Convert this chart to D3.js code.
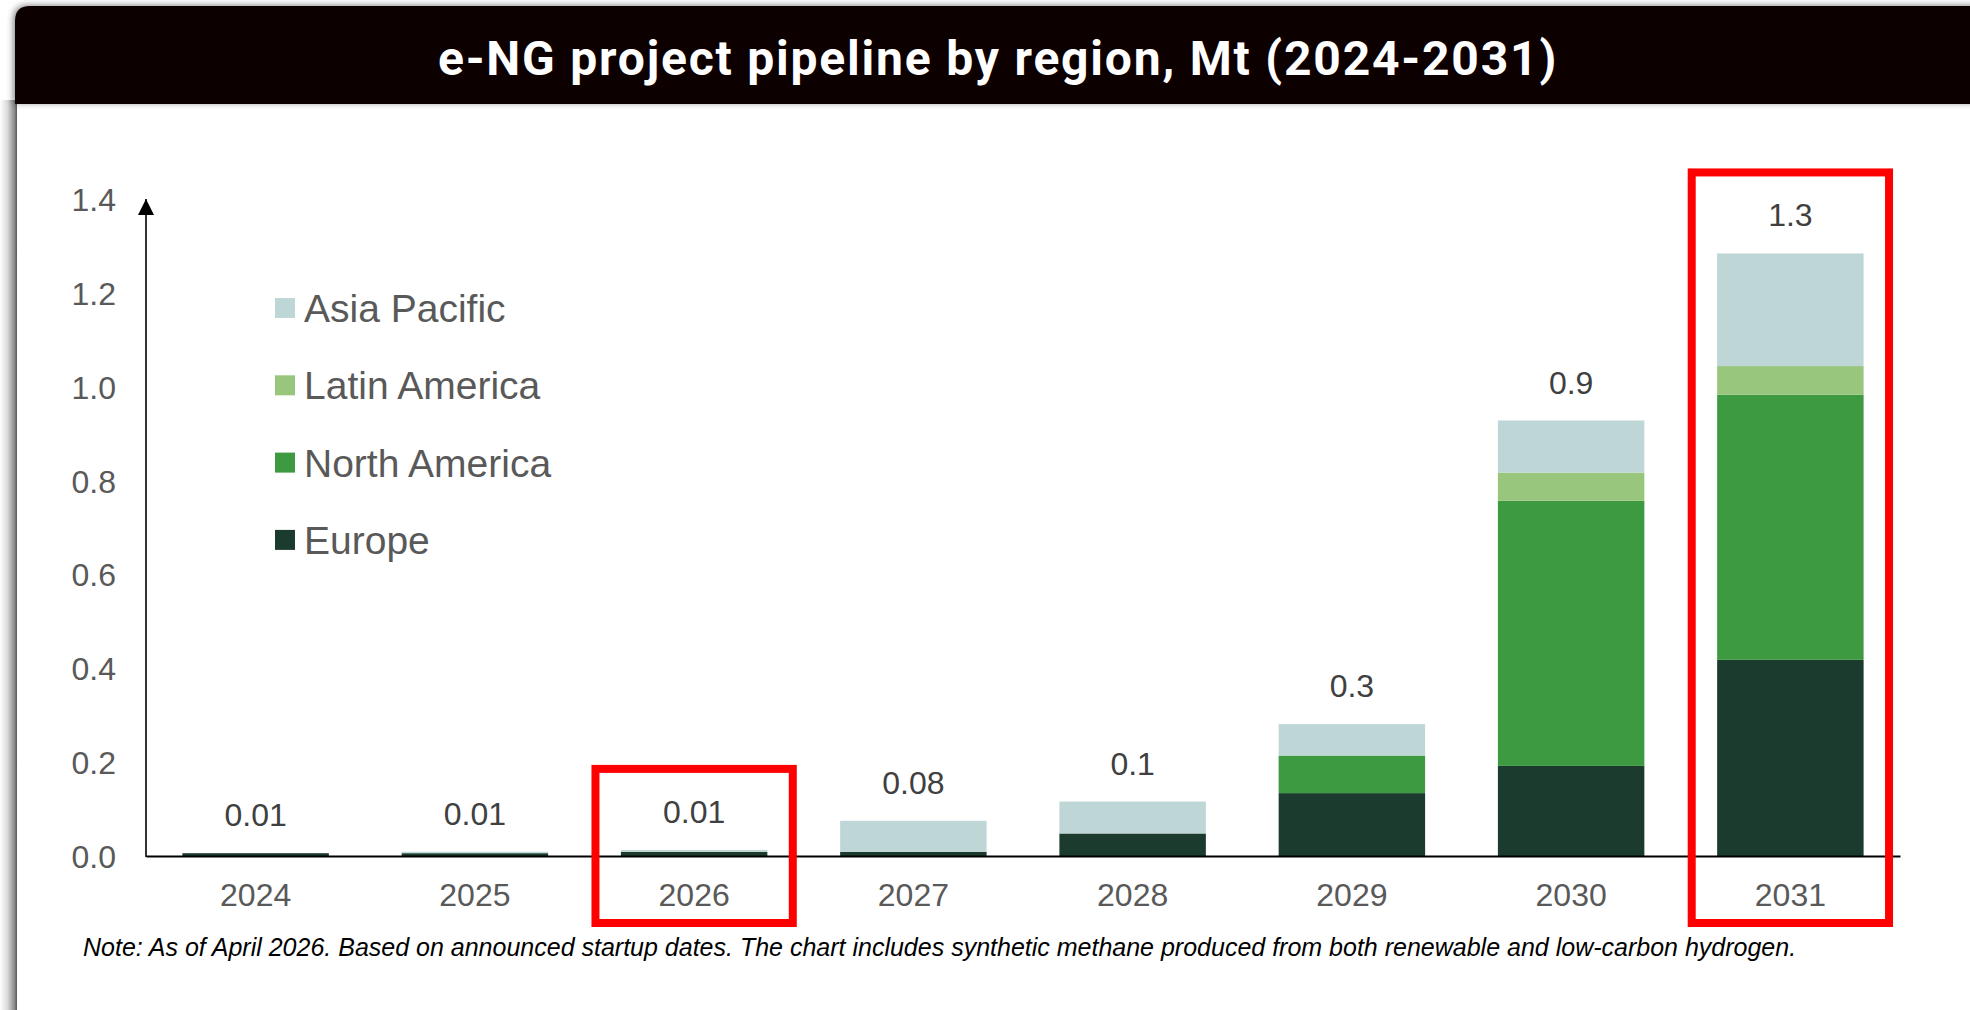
<!DOCTYPE html>
<html>
<head>
<meta charset="utf-8">
<script src="https://cdn.jsdelivr.net/npm/d3@7"></script>
<style>
  body { margin: 0; background: #fff; }
  svg { display: block; }
  .tick-label { font-family: "Liberation Sans", Arial, sans-serif; font-size: 32px; fill: #595959; }
</style>
</head>
<body>
<div id="chart"></div>
<script>
// chart values
var years = ["2024", "2025", "2026", "2027", "2028", "2029", "2030", "2031"];
var europe       = [0.006, 0.006, 0.009, 0.009, 0.048, 0.134, 0.192, 0.418];
var northAmerica = [0,     0,     0,     0,     0,     0.080, 0.565, 0.565];
var latinAmerica = [0,     0,     0,     0,     0,     0,     0.060, 0.061];
var asiaPacific  = [0,     0.003, 0.004, 0.066, 0.068, 0.067, 0.111, 0.240];
var totalLabels  = ["0.01", "0.01", "0.01", "0.08", "0.1", "0.3", "0.9", "1.3"];
var yTicks = [0, 0.2, 0.4, 0.6, 0.8, 1.0, 1.2, 1.4];
var highlightYears = ["2026", "2031"];

var seriesNames = ["Europe", "North America", "Latin America", "Asia Pacific"];
var seriesColors = ["#1b3b2e", "#3e9a40", "#97c67c", "#bfd6d7"];

var svgWidth = 1970;
var svgHeight = 1010;

var margin = { top: 199, left: 146, right: 70, bottom: 154 };
var width = svgWidth - margin.left - margin.right;
var height = svgHeight - margin.top - margin.bottom;

var svg = d3.select("#chart")
  .append("svg")
  .attr("width", svgWidth)
  .attr("height", svgHeight);

var defs = svg.append("defs");

// soft frame shadow on the left
var grad = defs.append("linearGradient")
  .attr("id", "leftShade")
  .attr("x1", "0").attr("x2", "1").attr("y1", "0").attr("y2", "0");
grad.append("stop").attr("offset", "0%").attr("stop-color", "#ffffff");
grad.append("stop").attr("offset", "45%").attr("stop-color", "#d8d8d8");
grad.append("stop").attr("offset", "85%").attr("stop-color", "#8a8a8a");
grad.append("stop").attr("offset", "100%").attr("stop-color", "#555555");

var shadow = defs.append("filter")
  .attr("id", "headShadow")
  .attr("x", "-5%").attr("y", "-30%").attr("width", "110%").attr("height", "160%");
shadow.append("feDropShadow")
  .attr("dx", -2).attr("dy", -1)
  .attr("stdDeviation", 3)
  .attr("flood-color", "#000")
  .attr("flood-opacity", 0.45);

svg.append("rect")
  .attr("x", 0).attr("y", 100)
  .attr("width", 17).attr("height", svgHeight - 100)
  .attr("fill", "url(#leftShade)");

// header bar, rounded top-left corner only
var hx = 15, hy = 6, hw = svgWidth - 15 + 20, hh = 98, r = 15;
svg.append("path")
  .attr("d", `M${hx},${hy + hh} V${hy + r} Q${hx},${hy} ${hx + r},${hy} H${hx + hw} V${hy + hh} Z`)
  .attr("fill", "#0a0606")
  .attr("filter", "url(#headShadow)");

svg.append("text")
  .attr("x", 998)
  .attr("y", 75)
  .attr("text-anchor", "middle")
  .attr("fill", "#ffffff")
  .style("font-family", "Roboto, 'Open Sans', sans-serif")
  .style("font-weight", 700)
  .style("font-size", "48px")
  .style("letter-spacing", "1.8px")
  .text("e-NG project pipeline by region, Mt (2024-2031)");

// scales
var x = d3.scaleBand()
  .domain(years)
  .range([margin.left, margin.left + width])
  .paddingInner(0.332)
  .paddingOuter(0.166);

var y = d3.scaleLinear()
  .domain([0, 1.4])
  .range([margin.top + height, margin.top]);

// stack the series
var rows = years.map(function(yr, i) {
  return {
    year: yr,
    "Europe": europe[i],
    "North America": northAmerica[i],
    "Latin America": latinAmerica[i],
    "Asia Pacific": asiaPacific[i],
    label: totalLabels[i]
  };
});

var stacked = d3.stack().keys(seriesNames)(rows);

var layers = svg.append("g")
  .selectAll("g")
  .data(stacked)
  .enter()
  .append("g")
  .attr("fill", (d, i) => seriesColors[i]);

layers.selectAll("rect")
  .data(d => d)
  .enter()
  .append("rect")
  .attr("x", d => x(d.data.year))
  .attr("width", x.bandwidth())
  .attr("y", d => y(d[1]))
  .attr("height", d => y(d[0]) - y(d[1]));

// y axis: labels only, then the arrow line
var yAxis = d3.axisLeft(y)
  .tickValues(yTicks)
  .tickFormat(d3.format(".1f"))
  .tickSize(0)
  .tickPadding(30);

var yAxisG = svg.append("g")
  .attr("transform", `translate(${margin.left}, 0)`)
  .call(yAxis);
yAxisG.select(".domain").remove();
yAxisG.selectAll("text")
  .attr("class", "tick-label")
  .attr("dy", "0.36em");

defs.append("marker")
  .attr("id", "arrow")
  .attr("viewBox", "0 0 10 10")
  .attr("refX", 10).attr("refY", 5)
  .attr("markerUnits", "userSpaceOnUse")
  .attr("markerWidth", 16).attr("markerHeight", 16)
  .attr("orient", "auto")
  .append("path")
  .attr("d", "M0,0 L10,5 L0,10 Z")
  .attr("fill", "#000");

svg.append("line")
  .attr("x1", margin.left).attr("x2", margin.left)
  .attr("y1", y(0) + 1).attr("y2", y(1.4))
  .attr("stroke", "#000")
  .attr("stroke-width", 1.6)
  .attr("marker-end", "url(#arrow)");

// x axis
var xAxis = d3.axisBottom(x).tickSize(0).tickPadding(27);
var xAxisG = svg.append("g")
  .attr("transform", `translate(0, ${y(0)})`)
  .call(xAxis);
xAxisG.select(".domain")
  .attr("stroke", "#000")
  .attr("stroke-width", 1.8);
xAxisG.selectAll("text")
  .attr("class", "tick-label")
  .attr("dy", "0.71em");

// total labels over bars
var totals = stacked[stacked.length - 1];
svg.append("g")
  .selectAll("text")
  .data(totals)
  .enter()
  .append("text")
  .attr("x", d => x(d.data.year) + x.bandwidth() / 2)
  .attr("y", d => y(d[1]) - 27)
  .attr("text-anchor", "middle")
  .style("font-family", "'Liberation Sans', Arial, sans-serif")
  .style("font-size", "32px")
  .attr("fill", "#404040")
  .text(d => d.data.label);

// red highlight boxes
var boxW = 0.9 * x.step();
svg.append("g")
  .selectAll("rect")
  .data(totals.filter(d => highlightYears.indexOf(d.data.year) >= 0))
  .enter()
  .append("rect")
  .attr("x", d => x(d.data.year) + x.bandwidth() / 2 - boxW / 2)
  .attr("y", d => y(d[1]) - 81)
  .attr("width", boxW)
  .attr("height", d => 923 - (y(d[1]) - 81))
  .attr("fill", "none")
  .attr("stroke", "#ff0000")
  .attr("stroke-width", 8);

// legend (top of stack first)
var legendNames = seriesNames.slice().reverse();
var legendColors = seriesColors.slice().reverse();
var legend = svg.append("g")
  .selectAll("g")
  .data(legendNames)
  .enter()
  .append("g")
  .attr("transform", (d, i) => `translate(275, ${308 + i * 77.3})`);

legend.append("rect")
  .attr("x", 0).attr("y", -10)
  .attr("width", 20).attr("height", 20)
  .attr("fill", (d, i) => legendColors[i]);

legend.append("text")
  .attr("x", 29)
  .attr("y", 14)
  .style("font-family", "'Liberation Sans', Arial, sans-serif")
  .style("font-size", "39px")
  .attr("fill", "#595959")
  .text(d => d);

// footnote
svg.append("text")
  .attr("x", 83)
  .attr("y", 956)
  .style("font-family", "'Liberation Sans', Arial, sans-serif")
  .style("font-style", "italic")
  .style("font-size", "25px")
  .attr("fill", "#000")
  .text("Note: As of April 2026. Based on announced startup dates. The chart includes synthetic methane produced from both renewable and low-carbon hydrogen.");
</script>
</body>
</html>
